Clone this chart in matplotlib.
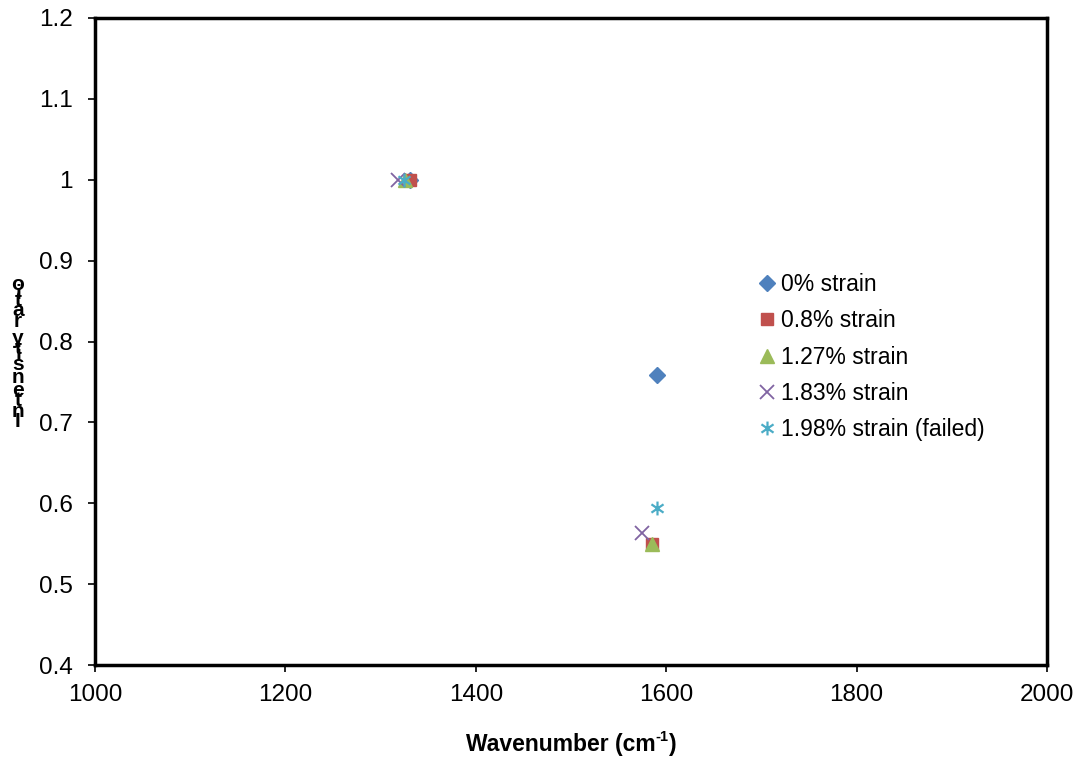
import matplotlib
matplotlib.use("Agg")
import matplotlib.pyplot as plt
from matplotlib.path import Path

plt.rcParams['font.family'] = ['Liberation Sans', 'DejaVu Sans']

# Raman peak positions (cm^-1) and intensity ratios per strain level
labels = ["0% strain", "0.8% strain", "1.27% strain", "1.83% strain", "1.98% strain (failed)"]
wavenumbers = [
    [1331, 1590],
    [1331, 1585],
    [1326, 1585],
    [1318, 1575],
    [1325, 1590],
]
ratios = [
    [1.0, 0.758],
    [1.0, 0.550],
    [1.0, 0.549],
    [1.0, 0.563],
    [1.0, 0.594],
]
x_ticks = [1000, 1200, 1400, 1600, 1800, 2000]
y_ticks = [0.4, 0.5, 0.6, 0.7, 0.8, 0.9, 1.0, 1.1, 1.2]
y_tick_labels = ["0.4", "0.5", "0.6", "0.7", "0.8", "0.9", "1", "1.1", "1.2"]

# asterisk marker: vertical bar plus two diagonals
star_path = Path(
    [(0, -1), (0, 1), (-0.87, -0.6), (0.87, 0.6), (-0.87, 0.6), (0.87, -0.6)],
    [Path.MOVETO, Path.LINETO, Path.MOVETO, Path.LINETO, Path.MOVETO, Path.LINETO],
)

styles = [
    dict(marker='D', color='#4F81BD', ms=8.5, mec='#4F81BD'),
    dict(marker='s', color='#C0504D', ms=8.5, mec='#C0504D'),
    dict(marker='^', color='#9BBB59', ms=10, mec='#9BBB59'),
    dict(marker='x', color='#8064A2', ms=9.5, mec='#8064A2', mew=1.3),
    dict(marker=star_path, color='#4BACC6', ms=10, mec='#4BACC6', mew=1.6),
]

fig = plt.figure(figsize=(10.81, 7.59), dpi=100)
ax = fig.add_axes([95 / 1081, 1 - 665 / 759, (1047 - 95) / 1081, (665 - 18) / 759])

for lab, xs, ys, st in zip(labels, wavenumbers, ratios, styles):
    ax.plot(xs, ys, linestyle='none', label=lab, **st)

ax.set_xlim(1000, 2000)
ax.set_ylim(0.4, 1.2)
ax.set_xticks(x_ticks)
ax.set_yticks(y_ticks)
ax.set_yticklabels(y_tick_labels)
ax.tick_params(axis='both', direction='out', length=5, width=1.2, labelsize=17.5)
ax.tick_params(axis='x', pad=9)
ax.tick_params(axis='y', pad=11)
for sp in ax.spines.values():
    sp.set_linewidth(2.5)

# x-axis title with a plain-hyphen superscript
fig.canvas.draw()
renderer = fig.canvas.get_renderer()
title_y = 1 - 744 / 759
parts = [("Wavenumber (cm", 16.5, 0), ("-1", 10.5, 7), (")", 16.5, 0)]
widths = []
for txt, fs, _ in parts:
    t = fig.text(0, 0, txt, fontsize=fs, fontweight='bold')
    widths.append(t.get_window_extent(renderer).width)
    t.remove()
x_px = (95 + 1047) / 2 - sum(widths) / 2
for (txt, fs, rise), w in zip(parts, widths):
    fig.text(x_px / 1081, title_y + rise / 759, txt, fontsize=fs, fontweight='bold',
             ha='left', va='center')
    x_px += w

# stacked vertical y-axis title: characters advance by their own width
ylab = "Intensity ratio"
chars = list(reversed(ylab))
advance = {'I': 278, 'n': 611, 't': 333, 'e': 556, 's': 556, 'i': 278,
           'y': 556, ' ': 278, 'r': 389, 'a': 556, 'o': 611}
first_px, last_px = 284, 421
steps = [(advance[a] + advance[b]) / 2 for a, b in zip(chars[:-1], chars[1:])]
scale = (last_px - first_px) / sum(steps)
pos = first_px
for i, ch in enumerate(chars):
    fig.text(18 / 1081, 1 - pos / 759, ch, fontsize=15,
             fontweight='bold', ha='center', va='center')
    if i < len(steps):
        pos += steps[i] * scale

ax.legend(loc='upper left', bbox_to_anchor=(760 / 1081, 1 - 273 / 759),
          bbox_transform=fig.transFigure, frameon=False, fontsize=16.5,
          handlelength=0.6, handletextpad=0.3, labelspacing=0.58,
          borderpad=0, borderaxespad=0)

fig.savefig("out.png", dpi=100)
